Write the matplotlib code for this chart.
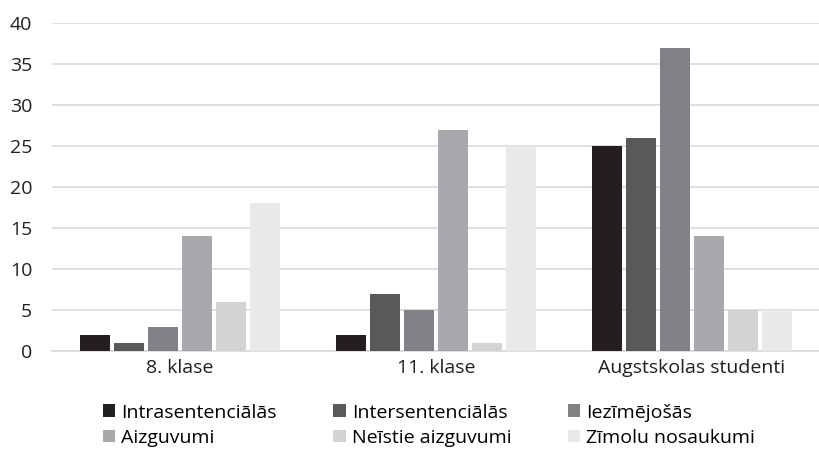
import matplotlib.pyplot as plt
import numpy as np

plt.rcParams['font.family'] = ['Open Sans', 'DejaVu Sans']

# Dati
grupas = ['8. klase', '11. klase', 'Augstskolas studenti']
serijas = ['Intrasentenciālās', 'Intersentenciālās', 'Iezīmējošās',
           'Aizguvumi', 'Neīstie aizguvumi', 'Zīmolu nosaukumi']
intrasent = [2, 2, 25]
intersent = [1, 7, 26]
iezimejosas = [3, 5, 37]
aizguvumi = [14, 27, 14]
neistie = [6, 1, 5]
zimolu = [18, 25, 5]
vertibas = [intrasent, intersent, iezimejosas, aizguvumi, neistie, zimolu]

krasas = ['#231f20', '#58595b', '#808285', '#a7a9ac', '#d1d3d4', '#e9e9ea']

fig = plt.figure(figsize=(8.2, 4.49), dpi=100)
ax = fig.add_axes([0.063, 0.218, 0.937, 0.731])

x = np.arange(len(grupas))
solis = 0.133
platums = 0.117
joslas = []
for i, (nos, v) in enumerate(zip(serijas, vertibas)):
    b = ax.bar(x + (i - 2.5) * solis, v, width=platums, color=krasas[i],
               label=nos, zorder=3)
    joslas.append(b)

ax.set_xlim(-0.5, 2.5)
ax.set_ylim(0, 40)
ax.set_yticks(range(0, 41, 5))
ax.yaxis.grid(True, color='#d9d9d9', linewidth=1.2, zorder=0)
for s in ['top', 'right', 'left']:
    ax.spines[s].set_visible(False)
ax.spines['bottom'].set_color('#d9d9d9')
ax.spines['bottom'].set_linewidth(1.2)
ax.tick_params(axis='both', length=0, labelsize=14, colors='#231f20')
ax.tick_params(axis='y', pad=14)
ax.tick_params(axis='x', pad=6)
ax.set_xticks(x)
ax.set_xticklabels(grupas)

# legenda rindās: pārkārto, jo matplotlib aizpilda pa kolonnām
kartiba = [0, 3, 1, 4, 2, 5]
ax.legend([joslas[k] for k in kartiba], [serijas[k] for k in kartiba],
          ncol=3, loc='upper center', bbox_to_anchor=(0.491, -0.16),
          frameon=False, fontsize=14, handlelength=0.65, handleheight=0.65,
          handletextpad=0.3, columnspacing=2.9, labelspacing=0.37,
          borderaxespad=0, borderpad=0)

fig.savefig('out.png', dpi=100)
